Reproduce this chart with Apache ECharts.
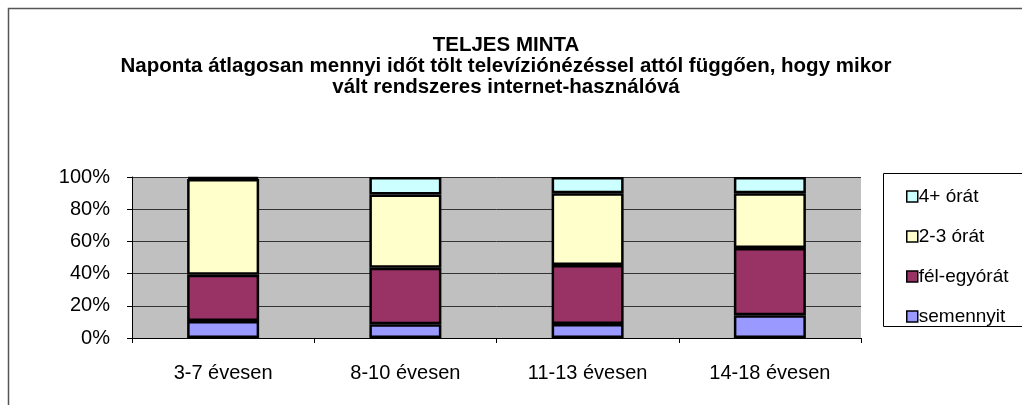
<!DOCTYPE html>
<html>
<head>
<meta charset="utf-8">
<script src="https://cdn.jsdelivr.net/npm/echarts@6/dist/echarts.min.js"></script>
<style>
  html, body { margin: 0; padding: 0; background: #fff; }
  #chart { width: 1022px; height: 405px; }
</style>
</head>
<body>
<div id="chart"></div>
<script>
// Adatok (százalék)
const korcsoportok = ['3-7 évesen', '8-10 évesen', '11-13 évesen', '14-18 évesen'];
const semennyit = [10.6, 8.5, 8.7, 14.1];
const felEgyorat = [28.7, 35.2, 36.6, 41.8];
const ketHaromorat = [59.5, 45.5, 44.6, 34.0];
const negyPluszorat = [1.2, 10.8, 10.1, 10.1];
const yTicks = [0, 20, 40, 60, 80, 100];

const font = 'Liberation Sans, Arial, sans-serif';

const chart = echarts.init(document.getElementById('chart'));

function bar(name, data, color) {
    return {
        name: name, type: 'bar', stack: 'total', data: data,
        barWidth: 72,
        itemStyle: { color: color, borderColor: '#000', borderWidth: 2.5 },
        emphasis: { disabled: true }
    };
}

chart.setOption({
    backgroundColor: '#fff',
    animation: false,
    title: {
        text: 'TELJES MINTA\nNaponta átlagosan mennyi időt tölt televíziónézéssel attól függően, hogy mikor\nvált rendszeres internet-használóvá',
        left: 501, top: 30, textAlign: 'center',
        textStyle: { fontFamily: font, fontSize: 20.5, fontWeight: 'bold', color: '#000', lineHeight: 21 }
    },
    graphic: [
        { type: 'rect', shape: { x: 8.5, y: 8.5, width: 1100, height: 500 },
          style: { fill: 'none', stroke: '#555', lineWidth: 1.5 }, silent: true },
        // legend box, its right side runs past the picture
        { type: 'rect', shape: { x: 883.5, y: 173.5, width: 200, height: 153 },
          style: { fill: '#fff', stroke: '#000', lineWidth: 1 }, silent: true, z: -1 }
    ],
    legend: {
        orient: 'vertical', left: 901, top: 182,
        data: ['4+ órát', '2-3 órát', 'fél-egyórát', 'semennyit'],
        icon: 'rect', itemWidth: 11, itemHeight: 11, itemGap: 21,
        itemStyle: { borderColor: '#000', borderWidth: 1.5 },
        textStyle: { fontFamily: font, fontSize: 19, color: '#000', padding: [0, 0, 0, -4] },
        selectedMode: false
    },
    grid: {
        left: 132, right: 161, top: 177, bottom: 67,
        show: true, backgroundColor: '#c0c0c0', borderWidth: 0
    },
    xAxis: {
        type: 'category', data: korcsoportok,
        axisLine: { lineStyle: { color: '#000', width: 1 } },
        axisTick: { show: true, length: 5, lineStyle: { color: '#000' } },
        axisLabel: { fontFamily: font, fontSize: 20, color: '#000', margin: 25 }
    },
    yAxis: {
        type: 'value', min: yTicks[0], max: yTicks[yTicks.length - 1], interval: 20,
        axisLine: { show: true, lineStyle: { color: '#000', width: 1 } },
        axisTick: { show: true, length: 5, lineStyle: { color: '#000' } },
        axisLabel: { fontFamily: font, fontSize: 20, color: '#000', margin: 22, formatter: '{value}%' },
        splitLine: { show: true, lineStyle: { color: '#333', width: 1 } }
    },
    series: [
        bar('semennyit', semennyit, '#9999ff'),
        bar('fél-egyórát', felEgyorat, '#993366'),
        bar('2-3 órát', ketHaromorat, '#ffffcc'),
        bar('4+ órát', negyPluszorat, '#ccffff')
    ]
});

window.addEventListener('resize', () => chart.resize());
</script>
</body>
</html>
